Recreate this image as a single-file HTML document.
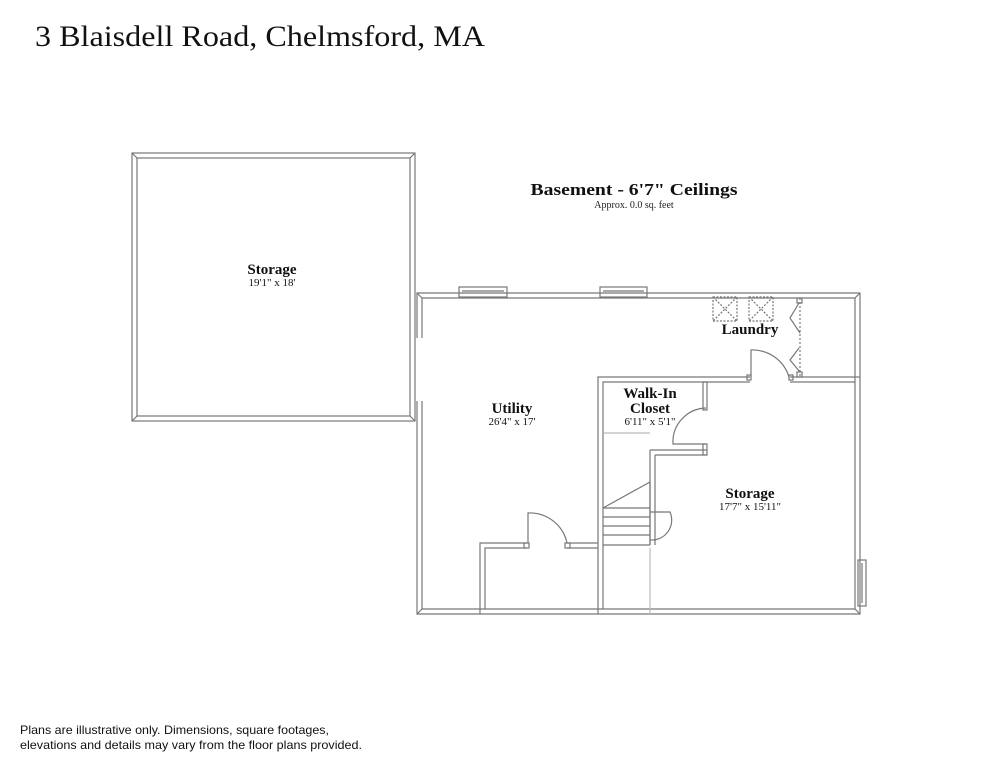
<!DOCTYPE html>
<html><head><meta charset="utf-8"><style>
html,body{margin:0;padding:0;background:#fff;}
svg{display:block;}
</style></head><body>
<svg width="994" height="768" viewBox="0 0 994 768" xmlns="http://www.w3.org/2000/svg">
<rect width="994" height="768" fill="#fff"/>
<text x="35" y="46" font-family="Liberation Serif, serif" font-size="30" fill="#111" textLength="450" lengthAdjust="spacingAndGlyphs">3 Blaisdell Road, Chelmsford, MA</text>
<text x="634" y="195" text-anchor="middle" font-family="Liberation Serif, serif" font-weight="bold" font-size="17" fill="#111" textLength="207" lengthAdjust="spacingAndGlyphs">Basement - 6'7" Ceilings</text>
<text x="634" y="208" text-anchor="middle" font-family="Liberation Serif, serif" font-size="10" fill="#222">Approx. 0.0 sq. feet</text>

<g fill="none" stroke="#777" stroke-width="1.2">
<rect x="132" y="153" width="283" height="268"/>
<rect x="137" y="158" width="273" height="258"/>
<line x1="132" y1="153" x2="137" y2="158"/><line x1="415" y1="153" x2="410" y2="158"/>
<line x1="132" y1="421" x2="137" y2="416"/><line x1="415" y1="421" x2="410" y2="416"/>
<polyline points="417,338 417,293 860,293 860,614 417,614 417,401"/>
<polyline points="422,338 422,298 855,298 855,609 422,609 422,401"/>
<line x1="417" y1="293" x2="422" y2="298"/><line x1="860" y1="293" x2="855" y2="298"/>
<line x1="860" y1="614" x2="855" y2="609"/><line x1="417" y1="614" x2="422" y2="609"/>
<rect x="459" y="287" width="48" height="10"/><line x1="462" y1="291" x2="504" y2="291"/>
<rect x="600" y="287" width="47" height="10"/><line x1="603" y1="291" x2="644" y2="291"/>
<rect x="858" y="560" width="8" height="46"/><line x1="862" y1="563" x2="862" y2="603"/>
<polyline points="598,614 598,377 750,377"/>
<polyline points="603,609 603,382 750,382"/>
<polyline points="790,377 860,377"/><polyline points="790,382 855,382"/>
<rect x="747" y="375" width="4" height="5"/><rect x="789" y="375" width="4" height="5"/>
<path d="M751 377 L751 350 A38 38 0 0 1 789 377"/>
<line x1="800" y1="298" x2="800" y2="377" stroke-dasharray="2 2"/>
<polyline points="799,303 790,318 800,333"/>
<polyline points="799,348 790,360 800,372"/>
<rect x="797" y="298" width="5" height="5"/><rect x="797" y="372" width="5" height="5"/>
<g stroke-dasharray="2 1.5">
<rect x="713" y="297" width="24" height="24"/><path d="M713 297 L737 321 M737 297 L713 321"/>
<rect x="749" y="297" width="24" height="24"/><path d="M749 297 L773 321 M773 297 L749 321"/>
</g>
<rect x="703" y="382" width="4" height="28"/>
<rect x="703" y="444" width="4" height="11"/>
<path d="M706 408 A34 34 0 0 0 673 444 L706 444"/>
<polyline points="650,450 707,450"/><polyline points="655,455 707,455"/>
<line x1="650" y1="450" x2="650" y2="545"/><line x1="655" y1="455" x2="655" y2="545"/>
<line x1="603" y1="433" x2="650" y2="433" stroke="#bbb"/>
<polyline points="603,508 650,482 650,545"/>
<line x1="603" y1="508" x2="650" y2="508"/>
<line x1="603" y1="517" x2="650" y2="517"/><line x1="603" y1="526" x2="650" y2="526"/>
<line x1="603" y1="535" x2="650" y2="535"/><line x1="603" y1="545" x2="650" y2="545"/>
<path d="M650 512 L670 512 A20 20 0 0 1 650 540"/>
<line x1="650" y1="548" x2="650" y2="614" stroke="#bbb"/>
<polyline points="480,614 480,543 527,543"/>
<polyline points="485,609 485,548 527,548"/>
<polyline points="567,543 598,543"/><polyline points="567,548 598,548"/>
<rect x="524" y="543" width="5" height="5"/><rect x="565" y="543" width="5" height="5"/>
<path d="M528 543 L528 513 A38 38 0 0 1 567 543"/>
</g>

<g font-family="Liberation Serif, serif" fill="#111" text-anchor="middle">
<text x="272" y="274" font-weight="bold" font-size="15">Storage</text>
<text x="272" y="286" font-size="11">19'1" x 18'</text>
<text x="750" y="334" font-weight="bold" font-size="15">Laundry</text>
<text x="512" y="413" font-weight="bold" font-size="15">Utility</text>
<text x="512" y="425" font-size="11">26'4" x 17'</text>
<text x="650" y="398" font-weight="bold" font-size="15">Walk-In</text>
<text x="650" y="413" font-weight="bold" font-size="15">Closet</text>
<text x="650" y="425" font-size="11">6'11" x 5'1"</text>
<text x="750" y="498" font-weight="bold" font-size="15">Storage</text>
<text x="750" y="510" font-size="11">17'7" x 15'11"</text>
</g>
<text x="20" y="734" font-family="Liberation Sans, sans-serif" font-size="12" fill="#111" textLength="309" lengthAdjust="spacingAndGlyphs">Plans are illustrative only. Dimensions, square footages,</text>
<text x="20" y="749" font-family="Liberation Sans, sans-serif" font-size="12" fill="#111" textLength="342" lengthAdjust="spacingAndGlyphs">elevations and details may vary from the floor plans provided.</text>
</svg>
</body></html>
